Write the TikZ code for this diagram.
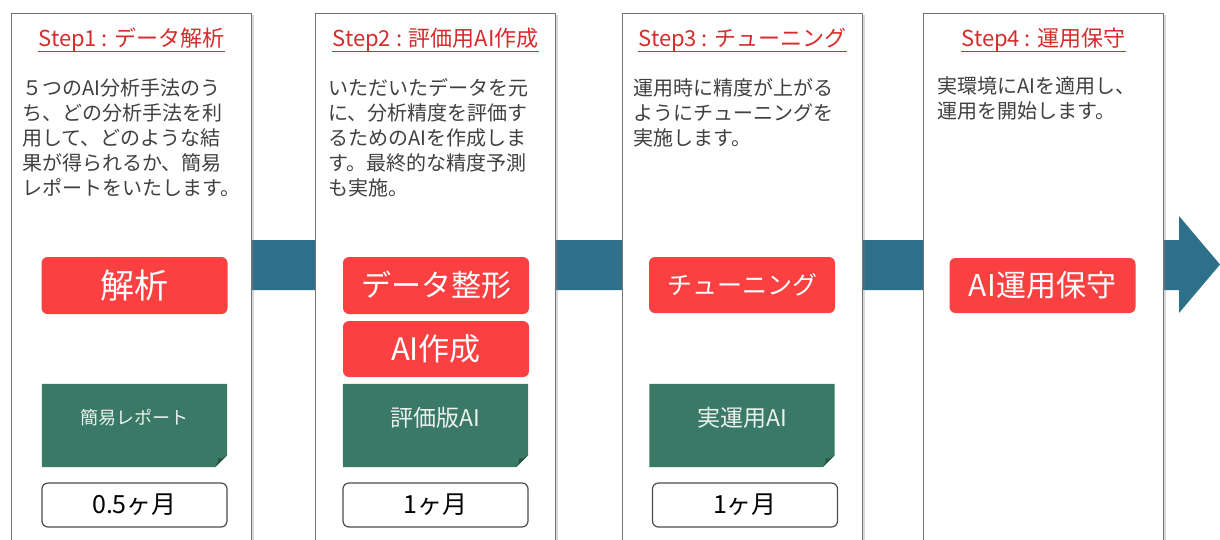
\documentclass[tikz,border=0pt]{standalone}
\usepackage{fontspec}
\setmainfont{Noto Sans CJK JP}
\usetikzlibrary{positioning,shadows}

\definecolor{bandblue}{RGB}{46,112,138}
\definecolor{boxred}{RGB}{250,64,64}
\definecolor{titlered}{RGB}{214,44,44}
\definecolor{notegreen}{RGB}{58,121,101}
\definecolor{foldgreen}{RGB}{36,84,70}
\definecolor{bodygray}{RGB}{64,64,64}

\begin{document}
\begin{tikzpicture}[x=1pt, y=-1pt,
	panel/.style={draw=black!55, line width=1.2pt, fill=white, anchor=north west, minimum width=240pt, minimum height=540pt, inner sep=0pt, drop shadow={opacity=0.3, shadow xshift=2pt, shadow yshift=-1pt}},
	steptitle/.style={anchor=base, inner sep=0pt, text=titlered, font=\fontsize{22}{24}\selectfont},
	body/.style={anchor=north west, inner sep=0pt, align=left, text=bodygray, font=\fontsize{20}{25}\selectfont},
	task/.style={fill=boxred, rounded corners=6pt, minimum width=186pt, minimum height=57pt, text=white, inner sep=0pt},
	note/.style={minimum width=185pt, minimum height=83pt, inner sep=0pt},
	notetext/.style={text=white!90!notegreen, inner sep=0pt},
	term/.style={draw=black!70, line width=1.2pt, fill=white, rounded corners=6pt, minimum width=185pt, minimum height=44pt, inner sep=0pt, font=\fontsize{25}{27}\selectfont}]
	\path[use as bounding box] (0,0) rectangle (1220,539);
	\clip (0,0) rectangle (1220,539);
	%%
	\coordinate (tip) at (1220,264.5);
	\fill[bandblue] (251,240) -- (1179,240) -- (1179,216) -- (tip) -- (1179,313) -- (1179,290) -- (251,290) -- cycle;
	%%
	\foreach \i/\x in {1/11, 2/315, 3/622, 4/923}
		\node[panel] (p\i) at (\x,13) {};
	%%
	\node[steptitle] (t1) at ([yshift=-33pt]p1.north) {Step1 : データ解析};
	\node[steptitle] (t2) at ([yshift=-33pt]p2.north) {Step2 : 評価用AI作成};
	\node[steptitle] (t3) at ([yshift=-33pt]p3.north) {Step3 : チューニング};
	\node[steptitle] (t4) at ([yshift=-33pt]p4.north) {Step4 : 運用保守};
	\foreach \t in {t1,t2,t3,t4}
		\draw[titlered, line width=1pt] ([yshift=-5pt]\t.base west) -- ([yshift=-5pt]\t.base east);
	%%
	\node[body] (b1) at ([xshift=11pt, yshift=-65pt]p1.north west) {５つのAI分析手法のう\\ち、どの分析手法を利\\用して、どのような結\\果が得られるか、簡易\\レポートをいたします。};
	\node[body] (b2) at ([xshift=13pt, yshift=-65pt]p2.north west) {いただいたデータを元\\に、分析精度を評価す\\るためのAIを作成しま\\す。最終的な精度予測\\も実施。};
	\node[body] (b3) at ([xshift=11pt, yshift=-65pt]p3.north west) {運用時に精度が上がる\\ようにチューニングを\\実施します。};
	\node[body] (b4) at ([xshift=14pt, yshift=-63pt]p4.north west) {実環境にAIを適用し、\\運用を開始します。};
	%%
	\node[task, font=\fontsize{34}{36}\selectfont] (k1) at (134.5,285.5) {解析};
	\node[task, font=\fontsize{30}{32}\selectfont] (k2) at (436,285.5) {データ整形};
	\node[task, font=\fontsize{31}{33}\selectfont, minimum height=56pt] (k3) at (436,349) {AI作成};
	\node[task, font=\fontsize{25}{28}\selectfont, minimum height=56pt] (k4) at (742,285) {チューニング};
	\node[task, font=\fontsize{30}{32}\selectfont, minimum height=55pt] (k5) at (1042.5,285.5) {AI運用保守};
	%%
	\node[note] (n1) at (134.5,425.5) {};
	\node[note] (n2) at (435.5,425.5) {};
	\node[note] (n3) at (742,425.5) {};
	\foreach \n in {n1,n2,n3} {
		\fill[notegreen] (\n.north west) -- (\n.north east) -- ([yshift=12pt]\n.south east) -- ([xshift=-12pt]\n.south east) -- (\n.south west) -- cycle;
		\fill[foldgreen] ([yshift=12pt]\n.south east) .. controls ([xshift=-6pt, yshift=8pt]\n.south east) .. ([xshift=-9pt, yshift=9pt]\n.south east) .. controls ([xshift=-9pt, yshift=5pt]\n.south east) .. ([xshift=-12pt]\n.south east) -- cycle;
	}
	\node[notetext, font=\fontsize{18}{20}\selectfont] (n1t) at ([yshift=8pt]n1.center) {簡易レポート};
	\node[notetext, font=\fontsize{23}{25}\selectfont] (n2t) at ([yshift=8pt]n2.center) {評価版AI};
	\node[notetext, font=\fontsize{23}{25}\selectfont] (n3t) at ([yshift=8pt]n3.center) {実運用AI};
	%%
	\node[term] (d1) at (134.5,505) {0.5ヶ月};
	\node[term] (d2) at (435.5,505) {1ヶ月};
	\node[term] (d3) at (745,505) {1ヶ月};
\end{tikzpicture}
\end{document}
